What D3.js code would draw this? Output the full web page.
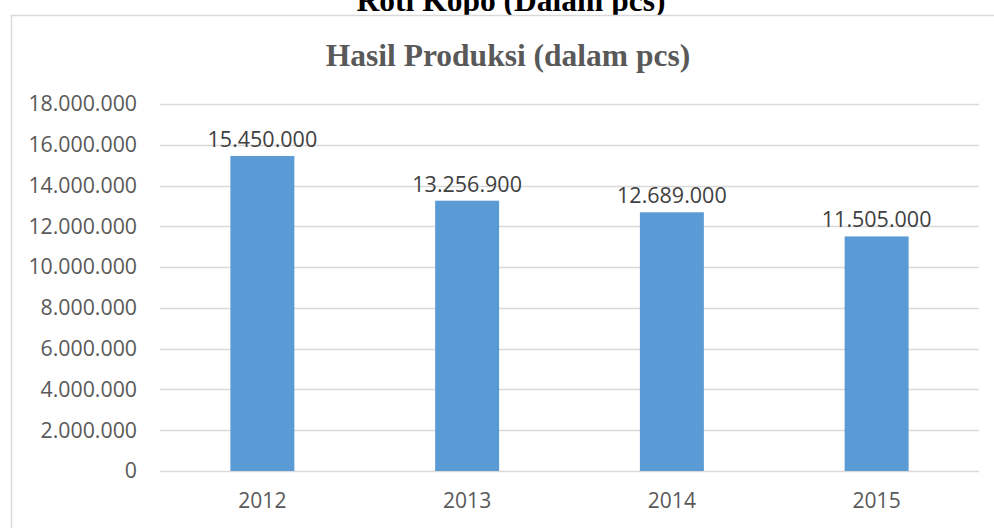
<!DOCTYPE html>
<html>
<head>
<meta charset="utf-8">
<script src="https://cdn.jsdelivr.net/npm/d3@7"></script>
<style>
  html, body { margin: 0; padding: 0; background: #fff; }
  svg { display: block; }
</style>
</head>
<body>
<svg id="chart"></svg>
<script>
// data
const years = ['2012', '2013', '2014', '2015'];
const produksi = [15450000, 13256900, 12689000, 11505000];
const yTicks = [0, 2000000, 4000000, 6000000, 8000000, 10000000, 12000000, 14000000, 16000000, 18000000];

const W = 994, H = 528;
const svg = d3.select('#chart').attr('width', W).attr('height', H);

// number format with dots as thousand separator
const fmt = d3.formatLocale({decimal: ',', thousands: '.', grouping: [3], currency: ['', '']}).format(',');

// page title, cut off at the top like in the source
svg.append('text')
  .attr('x', 511).attr('y', 11)
  .attr('text-anchor', 'middle')
  .attr('font-family', 'Liberation Serif, Times New Roman, serif')
  .attr('font-weight', 'bold')
  .attr('font-size', 31.5)
  .attr('fill', '#000')
  .text('Roti Kopo (Dalam pcs)');

// chart box
svg.append('rect')
  .attr('x', 11.5).attr('y', 15.5)
  .attr('width', W).attr('height', H)
  .attr('fill', '#fff')
  .attr('stroke', '#d9d9d9')
  .attr('stroke-width', 1.5);

svg.append('text')
  .attr('x', 508).attr('y', 66)
  .attr('text-anchor', 'middle')
  .attr('font-family', 'Liberation Serif, Times New Roman, serif')
  .attr('font-weight', 'bold')
  .attr('font-size', 31.5)
  .attr('fill', '#595959')
  .text('Hasil Produksi (dalam pcs)');

const x = d3.scaleBand().domain(years).range([160, 979]).paddingInner(0.6875).paddingOuter(0.34375);
const y = d3.scaleLinear().domain([0, 18000000]).range([471, 104]);

// gridlines
svg.append('g')
  .selectAll('line')
  .data(yTicks)
  .enter().append('line')
  .attr('x1', 160).attr('x2', 979)
  .attr('y1', d => Math.round(y(d)) + 0.5)
  .attr('y2', d => Math.round(y(d)) + 0.5)
  .attr('stroke', '#d9d9d9')
  .attr('stroke-width', 1.5);

// y axis labels
const yAxis = svg.append('g')
  .attr('transform', 'translate(160,0)')
  .call(d3.axisLeft(y).tickValues(yTicks).tickFormat(fmt).tickSize(0).tickPadding(23));
yAxis.select('.domain').remove();
yAxis.selectAll('text')
  .attr('font-family', 'Open Sans, sans-serif')
  .attr('font-size', 21.3)
  .attr('fill', '#595959');

// x axis labels
const xAxis = svg.append('g')
  .attr('transform', 'translate(0,471)')
  .call(d3.axisBottom(x).tickSize(0).tickPadding(22));
xAxis.select('.domain').remove();
xAxis.selectAll('text')
  .attr('font-family', 'Open Sans, sans-serif')
  .attr('font-size', 21)
  .attr('fill', '#595959');

// bars
svg.append('g')
  .selectAll('rect')
  .data(produksi)
  .enter().append('rect')
  .attr('x', (d, i) => x(years[i]))
  .attr('width', x.bandwidth())
  .attr('y', d => y(d))
  .attr('height', d => y(0) - y(d))
  .attr('fill', '#5b9bd5');

// value labels
svg.append('g')
  .selectAll('text')
  .data(produksi)
  .enter().append('text')
  .attr('x', (d, i) => x(years[i]) + x.bandwidth() / 2)
  .attr('y', d => y(d) - 9)
  .attr('text-anchor', 'middle')
  .attr('font-family', 'Open Sans, sans-serif')
  .attr('font-size', 21.5)
  .attr('fill', '#404040')
  .text(d => fmt(d));
</script>
</body>
</html>
